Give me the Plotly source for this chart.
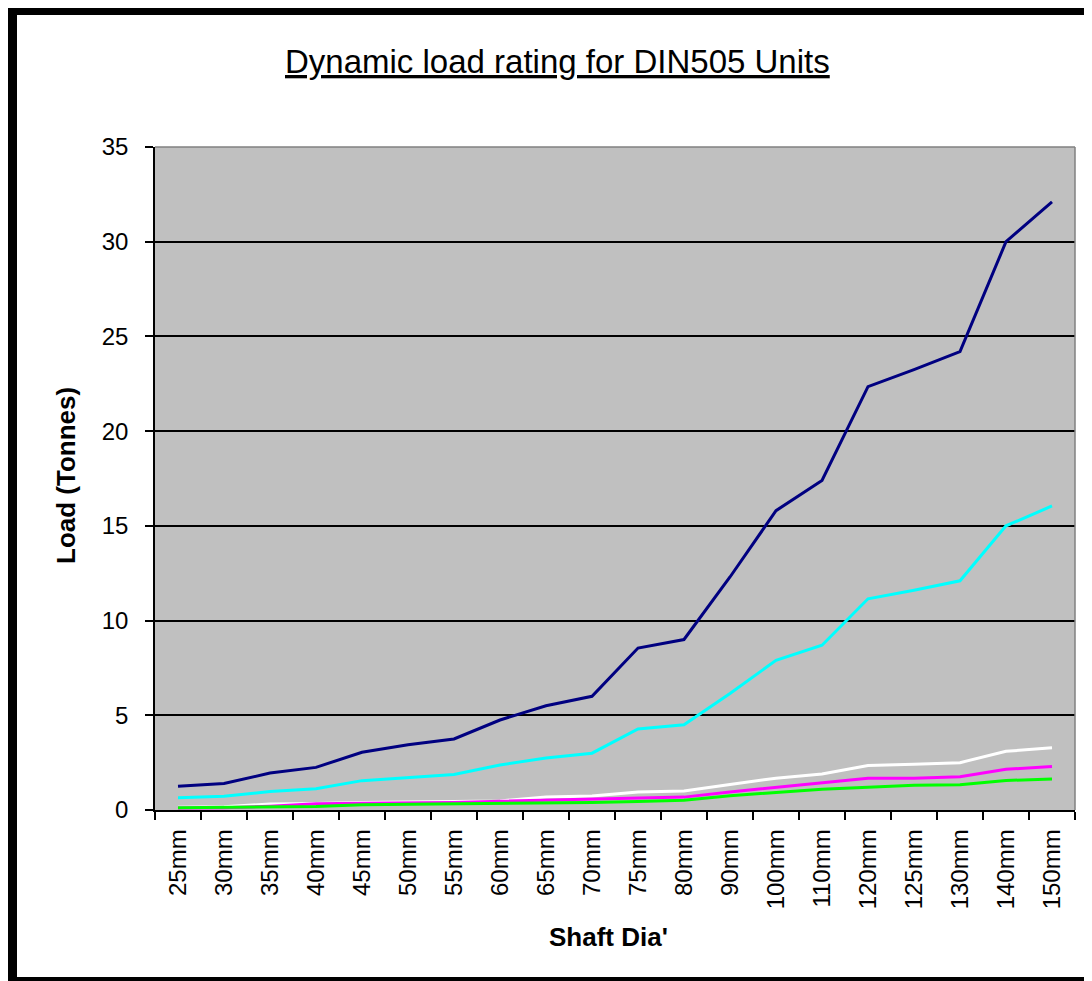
import plotly.graph_objects as go

categories = ["25mm", "30mm", "35mm", "40mm", "45mm", "50mm", "55mm", "60mm", "65mm", "70mm",
              "75mm", "80mm", "90mm", "100mm", "110mm", "120mm", "125mm", "130mm", "140mm", "150mm"]
navy_vals = [1.25, 1.4, 1.95, 2.25, 3.05, 3.45, 3.75, 4.75, 5.5, 6.0,
             8.55, 9.0, 12.3, 15.8, 17.4, 22.35, 23.25, 24.2, 30.0, 32.1]
cyan_vals = [0.65, 0.72, 0.98, 1.12, 1.55, 1.72, 1.88, 2.38, 2.75, 3.0,
             4.28, 4.5, 6.15, 7.9, 8.7, 11.15, 11.6, 12.1, 15.0, 16.05]
white_vals = [0.15, 0.17, 0.32, 0.34, 0.4, 0.42, 0.44, 0.48, 0.68, 0.74,
              0.95, 1.0, 1.35, 1.68, 1.9, 2.35, 2.42, 2.5, 3.1, 3.28]
magenta_vals = [0.1, 0.12, 0.2, 0.33, 0.35, 0.37, 0.4, 0.46, 0.52, 0.58,
                0.62, 0.68, 0.95, 1.2, 1.45, 1.68, 1.68, 1.76, 2.15, 2.3]
green_vals = [0.12, 0.13, 0.16, 0.18, 0.28, 0.3, 0.32, 0.33, 0.36, 0.4,
              0.45, 0.52, 0.75, 0.93, 1.1, 1.2, 1.3, 1.33, 1.56, 1.63]

series = [
    ("Series 1", navy_vals, "#000080"),
    ("Series 2", cyan_vals, "#00FFFF"),
    ("Series 3", white_vals, "#FFFFFF"),
    ("Series 4", magenta_vals, "#FF00FF"),
    ("Series 5", green_vals, "#00FF00"),
]

# page body adds an 8px offset; figure coordinates are reference pixels minus 8
OFF = 8
W, H = 1092 - OFF, 981 - OFF
L, R, T, B = 155 - OFF, 1075 - OFF, 147 - OFF, 810 - OFF
PW, PH = R - L, B - T


def xp(px):
    return (px - OFF - L) / PW


def yp(py):
    return (B - (py - OFF)) / PH


fig = go.Figure()
for name, vals, col in series:
    fig.add_trace(go.Scatter(x=categories, y=vals, mode="lines", name=name,
                             line=dict(color=col, width=3), showlegend=False))

font_family = "Liberation Sans, Arial, sans-serif"

fig.update_layout(
    width=W, height=H, autosize=False,
    margin=dict(l=L, r=W - R, t=T, b=H - B, pad=0),
    paper_bgcolor="white", plot_bgcolor="#C0C0C0",
    font=dict(family=font_family, color="black"),
    xaxis=dict(type="category", tickson="boundaries", ticks="outside", ticklen=8,
               tickcolor="black", tickwidth=1.5, showline=True, linecolor="black", linewidth=1.5,
               showgrid=False, tickangle=-90, tickfont=dict(size=24, family=font_family),
               ticklabelstandoff=8,
               range=[-0.5, len(categories) - 0.5], automargin=False, zeroline=False),
    yaxis=dict(range=[0, 35], dtick=5, ticks="outside", ticklen=8, tickcolor="black",
               tickwidth=1.5, showline=True, linecolor="black", linewidth=1.5,
               showgrid=True, gridcolor="black", gridwidth=1.5,
               ticklabelstandoff=12,
               tickfont=dict(size=24, family=font_family), automargin=False, zeroline=False),
)

# plot area border (top/right grey)
fig.add_shape(type="line", xref="paper", yref="paper", x0=0, x1=1, y0=1, y1=1,
              line=dict(color="#808080", width=1.5))
fig.add_shape(type="line", xref="paper", yref="paper", x0=1, x1=1, y0=0, y1=1,
              line=dict(color="#808080", width=1.5))

# chart outer frame (thick left/top, thin right/bottom), reference pixel coords
frame = [
    (8, 8, 17, 981),
    (8, 8, 1092, 15),
    (1087, 8, 1092, 981),
    (8, 977, 1092, 981),
]
for x0, y0, x1, y1 in frame:
    fig.add_shape(type="rect", xref="paper", yref="paper",
                  x0=xp(x0), x1=xp(x1), y0=yp(y1), y1=yp(y0),
                  fillcolor="black", line=dict(width=0), layer="above")

fig.add_annotation(text="Dynamic load rating for DIN505 Units", xref="paper", yref="paper",
                   x=xp(557), y=yp(61), showarrow=False, xanchor="center", yanchor="middle",
                   font=dict(size=33, family=font_family, color="black", lineposition="under"))
fig.add_annotation(text="<b>Load (Tonnes)</b>", xref="paper", yref="paper",
                   x=xp(66), y=yp(476), showarrow=False, textangle=-90,
                   xanchor="center", yanchor="middle",
                   font=dict(size=26, family=font_family, color="black"))
fig.add_annotation(text="<b>Shaft Dia'</b>", xref="paper", yref="paper",
                   x=xp(608), y=yp(937), showarrow=False,
                   xanchor="center", yanchor="middle",
                   font=dict(size=26, family=font_family, color="black"))

fig.write_html("out.html")
